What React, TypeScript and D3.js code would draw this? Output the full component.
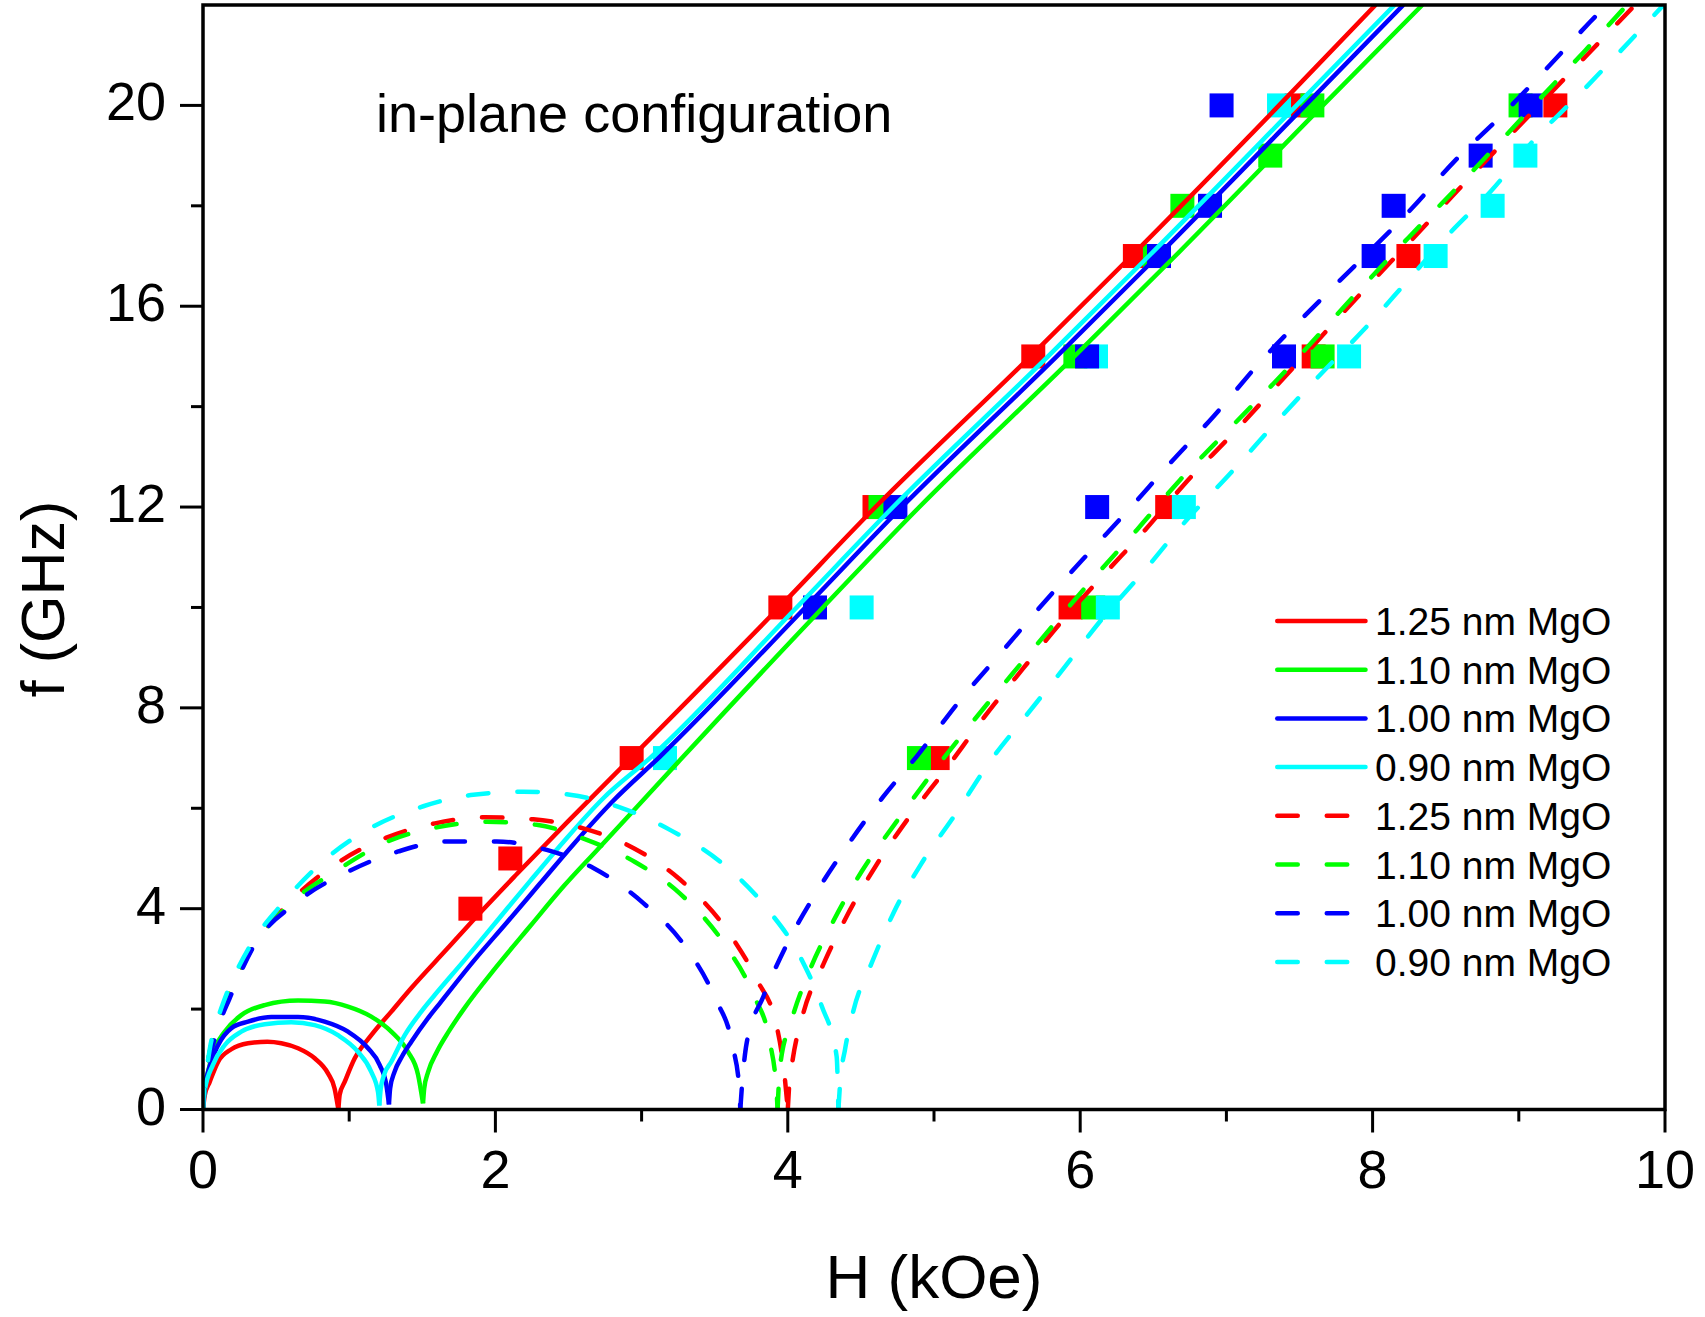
import * as d3 from "d3";
import { useEffect, useRef } from "react";

type Pt = [number, number];

// [H (kOe), f (GHz)]
const seriesLabels = ["1.25 nm MgO", "1.10 nm MgO", "1.00 nm MgO", "0.90 nm MgO"];
const seriesColors = ["#ff0000", "#00ff00", "#0000ff", "#00ffff"];

// measured modes
const meas125: Pt[] = [
  [1.829, 4], [2.102, 5], [2.932, 7], [3.949, 10], [4.593, 12], [5.679, 15], [6.374, 17], [7.48, 20],
  [5.025, 7], [5.934, 10], [6.595, 12], [7.597, 15], [8.245, 17], [9.25, 20],
];
const meas110: Pt[] = [
  [4.634, 12], [5.967, 15], [6.511, 17], [6.699, 18], [7.3, 19], [7.588, 20],
  [4.897, 7], [6.089, 10], [7.658, 15], [9.012, 20],
];
const meas100: Pt[] = [
  [4.186, 10], [4.736, 12], [6.047, 15], [6.539, 17], [6.888, 18], [6.967, 20],
  [6.116, 12], [7.394, 15], [8.007, 17], [8.144, 18], [8.739, 19], [9.081, 20],
];
const meas090: Pt[] = [
  [3.16, 7], [4.505, 10], [6.108, 15], [7.36, 20],
  [6.189, 10], [6.709, 12], [7.839, 15], [8.431, 17], [8.821, 18], [9.045, 19],
];

// calculated acoustic branch (solid): low-field arc + rising branch
const solid125Arc: Pt[] = [
  [0, 0], [0.012, 0.28], [0.046, 0.55], [0.103, 0.95], [0.194, 1.2], [0.308, 1.32], [0.44, 1.35],
  [0.536, 1.32], [0.65, 1.22], [0.764, 1.02], [0.855, 0.72], [0.9, 0.42], [0.926, 0],
];
const solid125Rise: Pt[] = [
  [0.926, 0], [0.935, 0.3], [0.969, 0.55], [1.038, 1.02], [1.151, 1.48], [1.288, 1.95],
  [1.425, 2.42], [1.67, 3.2], [1.87, 3.84], [2.15, 4.7], [2.5, 5.75], [2.92, 6.98], [3.94, 10.0],
  [4.6, 12.0], [5.66, 15.0], [6.35, 17.0], [7.36, 20.0], [8.02, 22.0],
];
const solid110Arc: Pt[] = [
  [0, 0], [0.01, 0.4], [0.034, 0.75], [0.08, 1.22], [0.148, 1.55], [0.262, 1.88], [0.422, 2.08],
  [0.65, 2.17], [0.832, 2.15], [0.992, 2.05], [1.151, 1.85], [1.288, 1.55], [1.402, 1.15],
  [1.471, 0.69], [1.505, 0.12],
];
const solid110Rise: Pt[] = [
  [1.505, 0.12], [1.513, 0.42], [1.54, 0.75], [1.6, 1.15], [1.68, 1.55], [1.781, 1.99],
  [2.009, 2.85], [2.237, 3.65], [2.465, 4.44], [2.693, 5.16], [2.966, 6.02], [3.263, 6.96],
  [4.24, 10.0], [4.9, 12.0], [5.96, 15.0], [6.65, 17.0], [7.66, 20.0], [8.34, 22.0],
];
const solid100Arc: Pt[] = [
  [0, 0], [0.01, 0.38], [0.04, 0.8], [0.103, 1.28], [0.194, 1.62], [0.308, 1.75], [0.467, 1.84],
  [0.65, 1.84], [0.832, 1.75], [0.992, 1.55], [1.129, 1.22], [1.208, 0.89], [1.254, 0.49],
  [1.272, 0.1],
];
const solid100Rise: Pt[] = [
  [1.272, 0.1], [1.28, 0.42], [1.31, 0.75], [1.36, 1.05], [1.425, 1.35], [1.539, 1.82],
  [1.621, 2.12], [1.849, 2.95], [2.077, 3.72], [2.305, 4.5], [2.533, 5.28], [2.806, 6.15],
  [3.126, 7.03], [4.12, 10.0], [4.78, 12.0], [5.84, 15.0], [6.53, 17.0], [7.54, 20.0], [8.21, 22.0],
];
const solid090Arc: Pt[] = [
  [0, 0], [0.01, 0.35], [0.068, 0.89], [0.148, 1.28], [0.262, 1.55], [0.422, 1.7], [0.604, 1.74],
  [0.764, 1.68], [0.923, 1.48], [1.06, 1.15], [1.151, 0.75], [1.197, 0.35], [1.206, 0.08],
];
const solid090Rise: Pt[] = [
  [1.206, 0.08], [1.215, 0.4], [1.24, 0.7], [1.288, 0.95], [1.38, 1.48], [1.493, 1.95],
  [1.585, 2.28], [1.781, 2.95], [2.009, 3.75], [2.237, 4.55], [2.465, 5.33], [2.738, 6.2],
  [3.057, 7.0], [4.06, 10.0], [4.72, 12.0], [5.78, 15.0], [6.47, 17.0], [7.48, 20.0], [8.15, 22.0],
];

// calculated optic branch (dashed)
const dash125Arc: Pt[] = [
  [0, 0], [0.008, 0.43], [0.03, 0.88], [0.05, 1.2], [0.1, 1.75], [0.17, 2.25], [0.33, 3.2],
  [0.55, 4.0], [0.93, 4.93], [1.25, 5.41], [1.587, 5.7], [1.929, 5.82], [2.26, 5.78],
  [2.601, 5.6], [2.943, 5.21], [3.263, 4.58], [3.582, 3.58], [3.787, 2.59], [3.924, 1.66],
  [3.975, 0.75], [4.0, 0],
];
const dash125Rise: Pt[] = [
  [4.0, 0], [4.01, 0.5], [4.03, 0.93], [4.106, 1.92], [4.243, 2.89], [4.403, 3.85], [4.608, 4.88],
  [4.824, 5.8], [5.087, 6.8], [5.337, 7.79], [5.611, 8.79], [5.873, 9.72], [6.17, 10.68],
  [6.443, 11.54], [6.717, 12.47], [7.047, 13.47], [7.367, 14.49], [7.96, 16.38], [8.27, 17.33],
  [8.57, 18.27], [8.87, 19.19], [9.17, 20.1], [9.475, 21.03], [9.795, 22.0],
];
const dash110Arc: Pt[] = [
  [0, 0], [0.008, 0.43], [0.03, 0.88], [0.05, 1.2], [0.1, 1.74], [0.17, 2.24], [0.33, 3.18],
  [0.55, 3.97], [0.937, 4.8], [1.256, 5.33], [1.598, 5.62], [1.94, 5.73], [2.282, 5.67],
  [2.625, 5.37], [2.955, 4.93], [3.263, 4.3], [3.57, 3.28], [3.764, 2.29], [3.878, 1.33],
  [3.924, 0.33], [3.93, 0],
];
const dash110Rise: Pt[] = [
  [3.93, 0], [3.947, 0.86], [4.027, 1.79], [4.152, 2.79], [4.311, 3.75], [4.505, 4.74],
  [4.745, 5.74], [4.995, 6.73], [5.258, 7.7], [5.531, 8.66], [5.816, 9.65], [6.09, 10.58],
  [6.386, 11.54], [6.683, 12.54], [7.025, 13.57], [7.355, 14.56], [7.95, 16.45], [8.25, 17.38],
  [8.56, 18.31], [8.86, 19.24], [9.15, 20.15], [9.45, 21.08], [9.74, 22.0],
];
const dash100Arc: Pt[] = [
  [0, 0], [0.008, 0.4], [0.03, 0.85], [0.06, 1.2], [0.11, 1.7], [0.18, 2.2], [0.333, 3.18],
  [0.652, 4.15], [0.994, 4.74], [1.336, 5.14], [1.667, 5.34], [2.009, 5.34], [2.351, 5.17],
  [2.67, 4.81], [3.012, 4.11], [3.285, 3.3], [3.502, 2.22], [3.623, 1.26], [3.668, 0.43],
  [3.675, 0],
];
const dash100Rise: Pt[] = [
  [3.675, 0], [3.69, 0.6], [3.719, 1.33], [3.833, 2.25], [3.992, 3.28], [4.186, 4.28],
  [4.403, 5.24], [4.653, 6.23], [4.881, 7.03], [5.189, 8.19], [5.474, 9.15], [5.759, 10.12],
  [6.044, 11.04], [6.329, 11.94], [6.614, 12.87], [6.91, 13.8], [7.25, 14.95], [7.652, 16.15],
  [8.272, 17.96], [8.564, 18.9], [8.883, 19.8], [9.179, 20.7], [9.487, 21.66], [9.6, 22.0],
];
const dash090Arc: Pt[] = [
  [0, 0], [0.008, 0.45], [0.03, 0.9], [0.046, 1.2], [0.1, 1.8], [0.148, 2.2], [0.32, 3.25],
  [0.527, 4.05], [0.834, 4.975], [1.13, 5.58], [1.507, 6.04], [1.849, 6.27], [2.19, 6.33],
  [2.51, 6.27], [2.852, 6.02], [3.194, 5.57], [3.536, 4.94], [3.856, 4.01], [4.083, 3.05],
  [4.232, 2.06], [4.334, 1.06], [4.346, 0],
];
const dash090Rise: Pt[] = [
  [4.346, 0], [4.36, 0.6], [4.391, 1.19], [4.448, 1.96], [4.574, 2.92], [4.722, 3.91],
  [4.916, 4.91], [5.144, 5.87], [5.38, 6.92], [5.634, 7.86], [5.896, 8.82], [6.135, 9.72],
  [6.432, 10.71], [6.728, 11.74], [7.036, 12.7], [7.344, 13.7], [7.64, 14.63], [7.936, 15.52],
  [8.222, 16.45], [8.52, 17.43], [8.815, 18.31], [9.1, 19.3], [9.396, 20.17], [9.99, 22.0],
];

const xMajor = [0, 2, 4, 6, 8, 10];
const xMinor = [1, 3, 5, 7, 9];
const yMajor = [0, 4, 8, 12, 16, 20];
const yMinor = [2, 6, 10, 14, 18];

const W = 1705;
const HT = 1317;
const FONT = "'Liberation Sans', Arial, Helvetica, sans-serif";

export default function App() {
  const ref = useRef<SVGSVGElement | null>(null);

  useEffect(() => {
    const svg = d3.select(ref.current);
    svg.selectAll("*").remove();

    const x = d3.scaleLinear().domain([0, 10]).range([203, 1665]);
    const y = d3.scaleLinear().domain([0, 22]).range([1109.5, 5]);
    const [x0, x1] = x.range();
    const [y0, y1] = y.range();

    svg.append("rect").attr("width", W).attr("height", HT).attr("fill", "#fff");

    svg.append("defs").append("clipPath").attr("id", "plotClip")
      .append("rect")
      .attr("x", x0).attr("y", y1)
      .attr("width", x1 - x0).attr("height", y0 - y1);

    const meas = [meas125, meas110, meas100, meas090];
    const solid = [[solid125Arc, solid125Rise], [solid110Arc, solid110Rise], [solid100Arc, solid100Rise], [solid090Arc, solid090Rise]];
    const dashed = [[dash125Arc, dash125Rise], [dash110Arc, dash110Rise], [dash100Arc, dash100Rise], [dash090Arc, dash090Rise]];

    const plot = svg.append("g").attr("clip-path", "url(#plotClip)");

    // squares: red, green, cyan, blue (blue on top)
    const sq = 24;
    [0, 1, 3, 2].forEach(i => {
      plot.append("g").selectAll("rect").data(meas[i]).enter().append("rect")
        .attr("x", d => x(d[0]) - sq / 2)
        .attr("y", d => y(d[1]) - sq / 2)
        .attr("width", sq).attr("height", sq)
        .attr("fill", seriesColors[i]);
    });

    const line = d3.line<Pt>().x(d => x(d[0])).y(d => y(d[1])).curve(d3.curveMonotoneX);
    const dashPattern = "20.5 29";

    solid.forEach((segs, i) => {
      segs.forEach(seg => {
        plot.append("path").attr("d", line(seg) as string)
          .attr("fill", "none").attr("stroke", seriesColors[i])
          .attr("stroke-width", 4.5).attr("stroke-linejoin", "round");
      });
    });
    dashed.forEach((segs, i) => {
      segs.forEach(seg => {
        plot.append("path").attr("d", line(seg) as string)
          .attr("fill", "none").attr("stroke", seriesColors[i])
          .attr("stroke-width", 4.5).attr("stroke-linecap", "round")
          .attr("stroke-dasharray", dashPattern);
      });
    });

    // frame and ticks
    svg.append("rect")
      .attr("x", x0).attr("y", y1).attr("width", x1 - x0).attr("height", y0 - y1)
      .attr("fill", "none").attr("stroke", "#000").attr("stroke-width", 3.5);

    const ticks = svg.append("g").attr("stroke", "#000").attr("stroke-width", 3);
    xMajor.forEach(v => ticks.append("line").attr("x1", x(v)).attr("x2", x(v)).attr("y1", y0).attr("y2", y0 + 23));
    xMinor.forEach(v => ticks.append("line").attr("x1", x(v)).attr("x2", x(v)).attr("y1", y0).attr("y2", y0 + 12));
    yMajor.forEach(v => ticks.append("line").attr("x1", x0 - 23).attr("x2", x0).attr("y1", y(v)).attr("y2", y(v)));
    yMinor.forEach(v => ticks.append("line").attr("x1", x0 - 12).attr("x2", x0).attr("y1", y(v)).attr("y2", y(v)));

    const labels = svg.append("g").attr("font-family", FONT).attr("fill", "#000");
    xMajor.forEach(v => labels.append("text")
      .attr("x", x(v)).attr("y", 1188).attr("text-anchor", "middle")
      .attr("font-size", 54).text(String(v)));
    yMajor.forEach(v => labels.append("text")
      .attr("x", 166).attr("y", y(v) + 15).attr("text-anchor", "end")
      .attr("font-size", 54).text(String(v)));

    labels.append("text")
      .attr("x", (x0 + x1) / 2).attr("y", 1298).attr("text-anchor", "middle")
      .attr("font-size", 62).text("H (kOe)");
    labels.append("text")
      .attr("transform", "translate(63.5,599) rotate(-90)")
      .attr("text-anchor", "middle").attr("font-size", 61).text("f (GHz)");

    labels.append("text")
      .attr("x", 376).attr("y", 131.7).attr("font-size", 54)
      .text("in-plane configuration");

    // legend: solid rows then dashed rows
    const legend = svg.append("g");
    const rowY = (k: number) => 621 + k * 48.7;
    for (let k = 0; k < 8; k++) {
      const i = k % 4;
      const ly = rowY(k);
      const l = legend.append("line")
        .attr("x1", 1277.25).attr("x2", 1365.5).attr("y1", ly).attr("y2", ly)
        .attr("stroke", seriesColors[i]).attr("stroke-width", 4.5).attr("stroke-linecap", "round");
      if (k >= 4) l.attr("stroke-dasharray", dashPattern);
      legend.append("text")
        .attr("x", 1375).attr("y", ly + 14)
        .attr("font-family", FONT).attr("font-size", 39)
        .text(seriesLabels[i]);
    }
  }, []);

  return (
    <svg
      ref={ref}
      width={W}
      height={HT}
      style={{ position: "absolute", left: 0, top: 0, display: "block" }}
    />
  );
}
